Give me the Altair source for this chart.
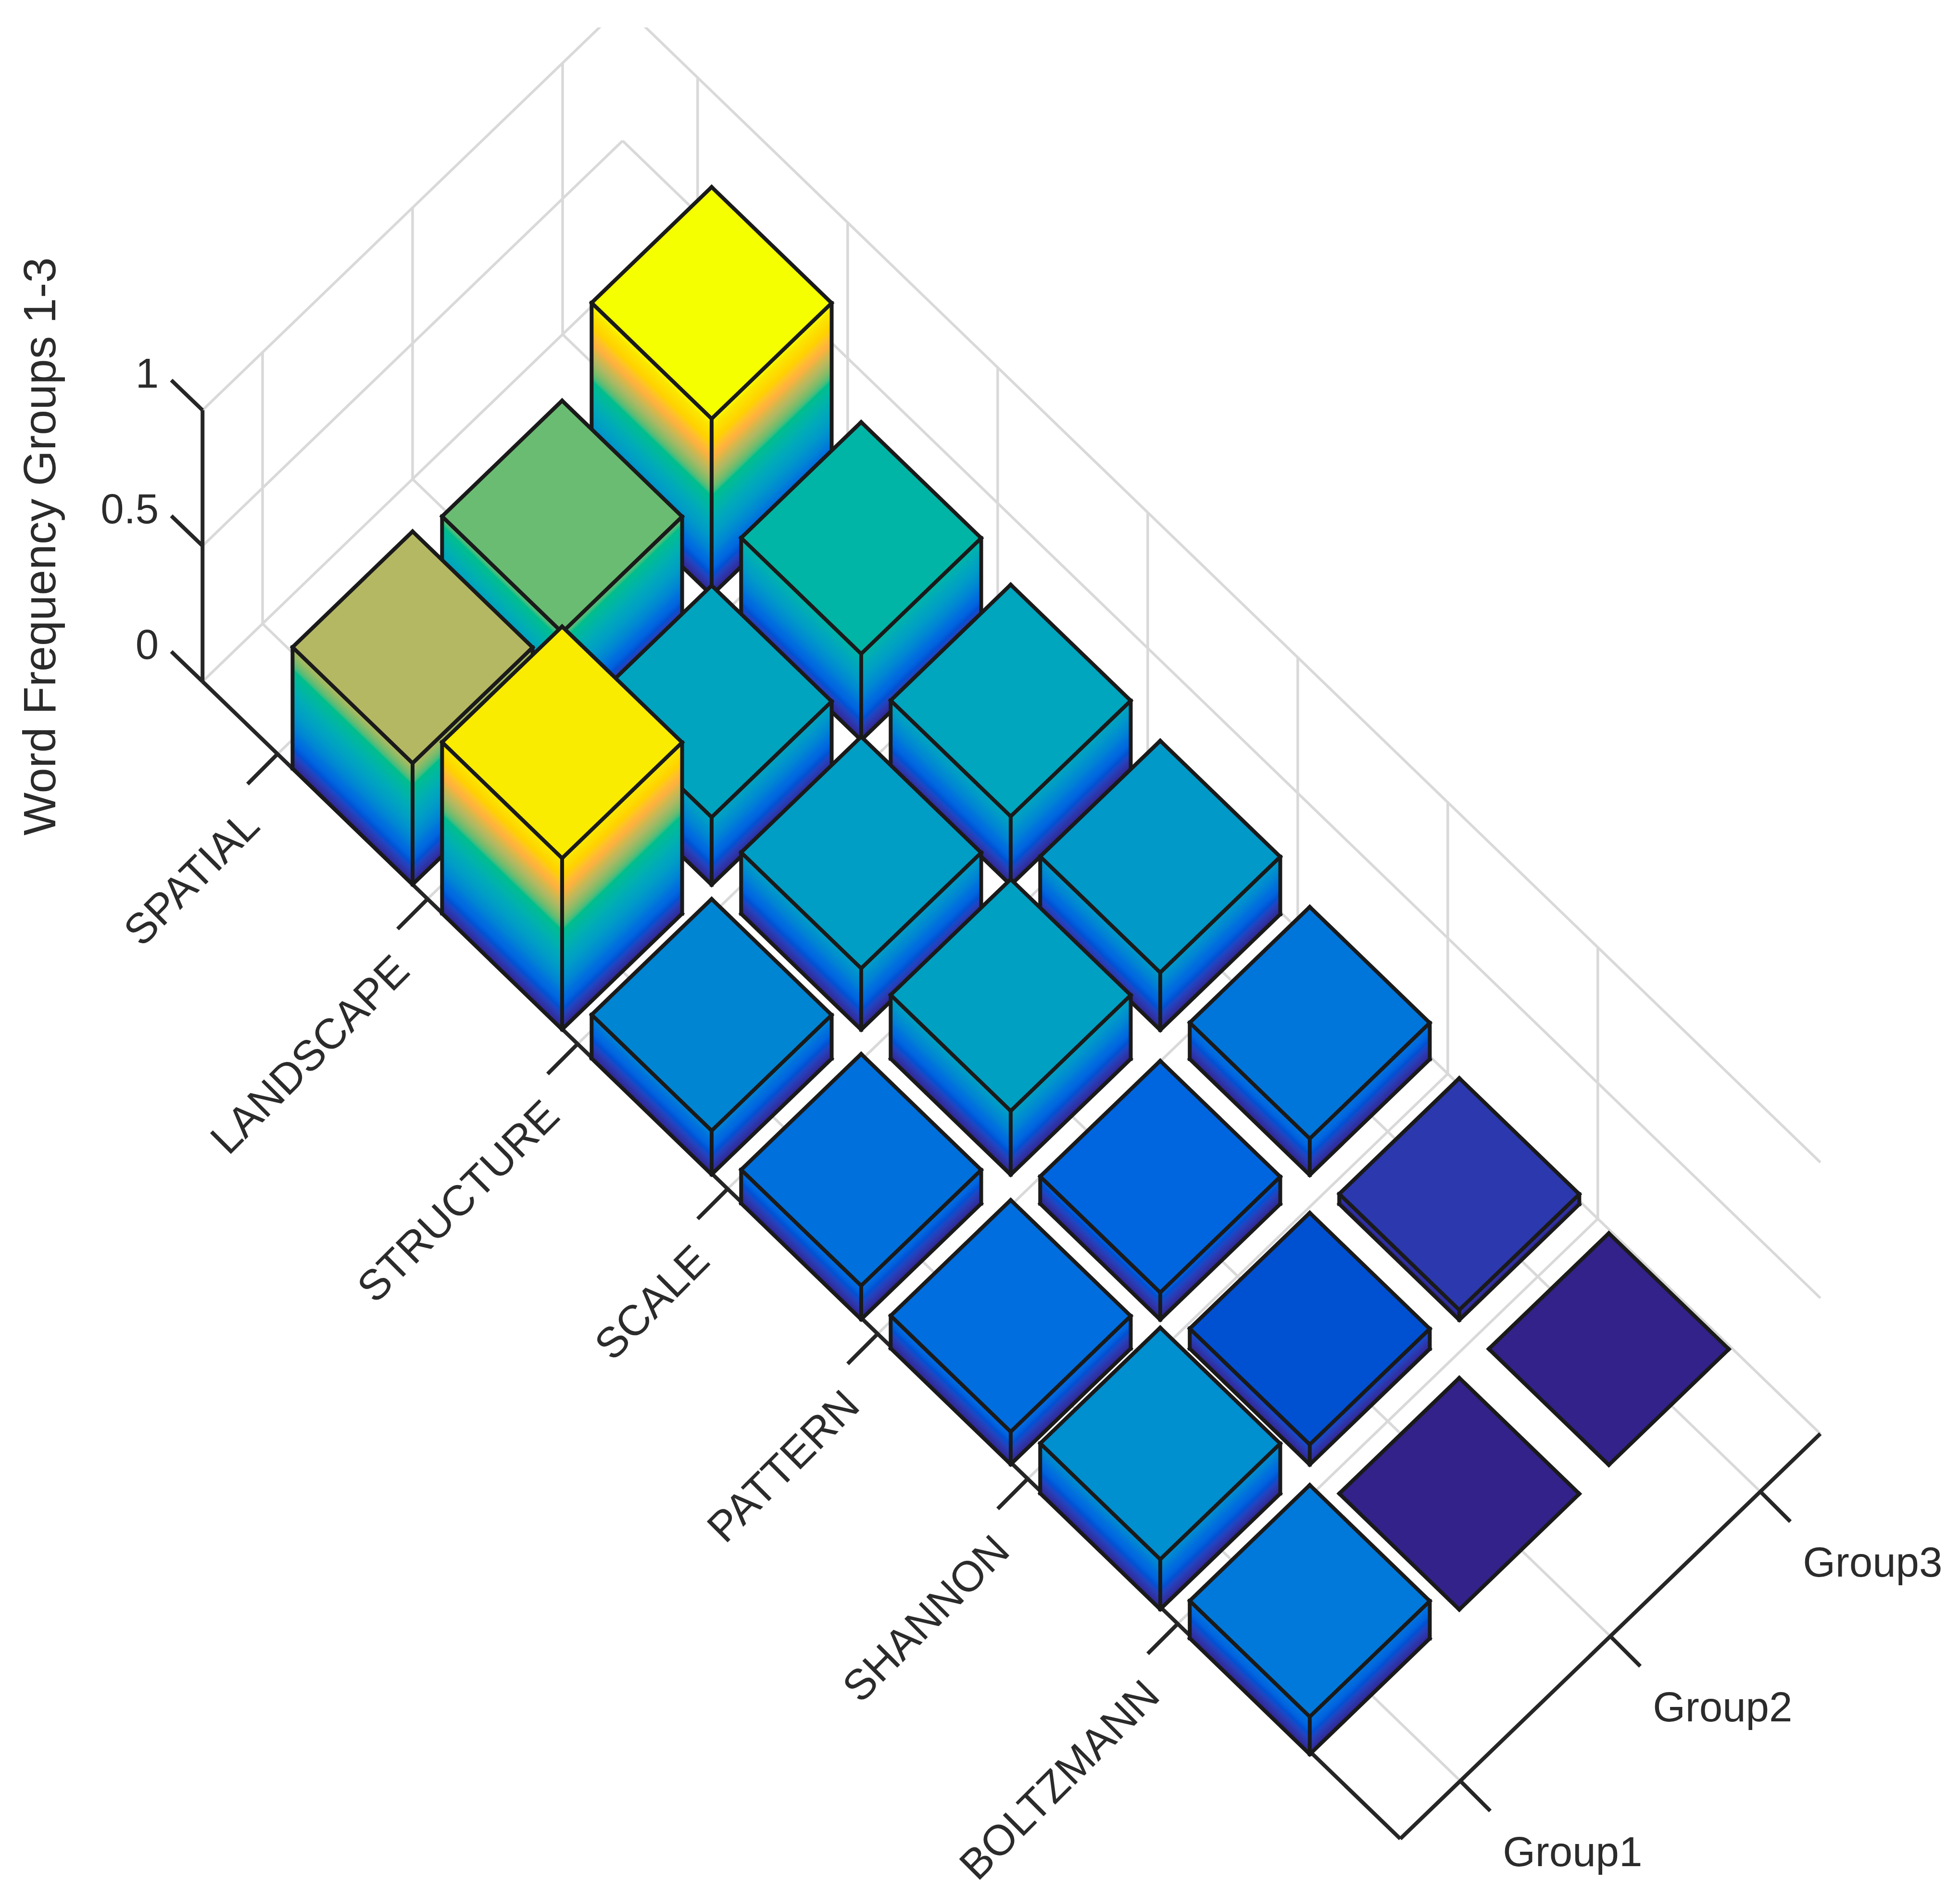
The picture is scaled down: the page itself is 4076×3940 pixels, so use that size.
import altair as alt
import pandas as pd

words = ["SPATIAL", "LANDSCAPE", "STRUCTURE", "SCALE", "PATTERN", "SHANNON", "BOLTZMANN"]
groups = ["Group1", "Group2", "Group3"]
group1 = [0.447, 0.631, 0.161, 0.124, 0.120, 0.184, 0.138]
group2 = [0.396, 0.249, 0.226, 0.235, 0.100, 0.074, 0.0]
group3 = [0.650, 0.318, 0.253, 0.212, 0.134, 0.037, 0.0]
z_ticks = [0, 0.5, 1]
z_labels = ["0", "0.5", "1"]

color_domain = [0, .037, .074, .100, .124, .161, .226, .253, .318, .369, .396, .447, .507, .562, .627, .650]
color_range = ["#32228A", "#2C38AE", "#0050D2", "#0066E0", "#0070DD", "#0085D3", "#009EC4", "#00A5BE", "#00B5A5",
               "#00BE8A", "#6ABC72", "#B5B863", "#FFB040", "#FFD000", "#FAE800", "#F5FF00"]

S = 2.6
W, H, TOP = 4060, 3924, 49
A_END, B_END = 958, 336
INK = "#1a1a1a"


def px(a, b, z=0.0, shift=0.0):
    return S * (162 + a + b - shift) - 8, S * (545 + 0.966 * a - 0.964 * b - 217 * z) - 8


word_pos = [60 + 120 * i for i in range(len(words))]
group_pos = [48 + 120 * j for j in range(len(groups))]

xs = alt.Scale(domain=[0, W], nice=False, zero=False)
ys = alt.Scale(domain=[H, TOP], nice=False, zero=False)
X = alt.X("x:Q", scale=xs, axis=None)
Y = alt.Y("y:Q", scale=ys, axis=None)
X2 = alt.X2("x2:Q")
Y2 = alt.Y2("y2:Q")
FILL = alt.Color("v:Q", scale=alt.Scale(domain=color_domain, range=color_range, clamp=True), legend=None)


def seg(p, q):
    return {"x": p[0], "y": p[1], "x2": q[0], "y2": q[1]}


def rules(rows, color, width, clip=False, cap="butt"):
    return alt.Chart(pd.DataFrame(rows)).mark_rule(
        color=color, strokeWidth=width, clip=clip, strokeCap=cap
    ).encode(x=X, y=Y, x2=X2, y2=Y2)


grid = []
for z in z_ticks:
    grid.append(seg(px(0, 0, z), px(0, B_END, z)))
    grid.append(seg(px(0, B_END, z), px(A_END, B_END, z)))
for b in group_pos:
    grid.append(seg(px(0, b), px(0, b, 1)))
    grid.append(seg(px(0, b), px(A_END, b)))
for a in word_pos:
    grid.append(seg(px(a, B_END), px(a, B_END, 1)))
    grid.append(seg(px(a, 0), px(a, B_END)))

axes = [seg(px(0, 0), px(0, 0, 1)), seg(px(0, 0), px(A_END, 0)), seg(px(A_END, 0), px(A_END, B_END))]


def offset(p, dx, dy):
    return p[0] + S * dx, p[1] + S * dy


for z in z_ticks:
    p = px(0, 0, z)
    axes.append(seg(p, offset(p, -25, -24)))
for a in word_pos:
    p = px(a, 0)
    axes.append(seg(p, offset(p, -24, 24)))
for b in group_pos:
    p = px(A_END, b)
    axes.append(seg(p, offset(p, 24, 24)))

layers = [rules(grid, "#d9d9d9", 5.5, clip=True), rules(axes, "#262626", 8)]

# bars painted back to front
bars = []
for j, vals in enumerate([group1, group2, group3]):
    for i, v in enumerate(vals):
        bars.append((i - j, i, j, v))
bars.sort()

HALF = 48
STEP = 0.006
PITCH = 120
for _, i, j, v in bars:
    a = 120 + PITCH * i
    b = 48 + PITCH * j
    d = 0.4 * (i + j)
    L = (a - HALF, b - HALF)
    F = (a + HALF, b - HALF)
    R = (a + HALF, b + HALF)
    K = (a - HALF, b + HALF)
    rows = []
    n = int(round(v / STEP))
    levels = [v * k / n for k in range(n, 0, -1)] if n else []
    fid = 0
    for face in [(L, F), (F, R)]:
        for lv in levels:
            for c in face:
                xp, top = px(*c, lv, d)
                _, bot = px(*c, 0)
                rows.append({"id": f"f{fid:05d}", "x": xp, "y": top, "y2": bot, "v": lv})
            fid += 1
    for c, other in [(L, L), (F, K), (R, R)]:
        xp, y1 = px(*c, v, d)
        _, y2 = px(*other, v)
        rows.append({"id": f"f{fid:05d}", "x": xp, "y": y1, "y2": y2, "v": v})
    layers.append(
        alt.Chart(pd.DataFrame(rows)).mark_area(interpolate="linear").encode(
            x=X, y=Y, y2=Y2, color=FILL, detail="id:N"
        )
    )
    edges = [
        seg(px(*L, v, d), px(*F, v, d)), seg(px(*F, v, d), px(*R, v, d)),
        seg(px(*R, v, d), px(*K, v, d)), seg(px(*K, v, d), px(*L, v, d)),
    ]
    if v > 0:
        edges += [
            seg(px(*L, 0, d), px(*F, 0, d)), seg(px(*F, 0, d), px(*R, 0, d)),
            seg(px(*L, 0, d), px(*L, v, d)), seg(px(*F, 0, d), px(*F, v, d)), seg(px(*R, 0, d), px(*R, v, d)),
        ]
    layers.append(rules(edges, INK, 8, cap="square"))

FONT = "Liberation Sans"
TEXT = "#2b2b2b"


def texts(rows, size=87, **kw):
    return alt.Chart(pd.DataFrame(rows)).mark_text(font=FONT, fontSize=size, color=TEXT, **kw).encode(
        x=X, y=Y, text="t:N"
    )


rows = []
for z, t in zip(z_ticks, z_labels):
    p = offset(px(0, 0, z), -35, -28)
    rows.append({"x": p[0], "y": p[1], "t": t})
layers.append(texts(rows, align="right", baseline="middle"))

rows = []
for a, t in zip(word_pos, words):
    p = offset(px(a, 0), -20, 52)
    rows.append({"x": p[0], "y": p[1], "t": t})
layers.append(texts(rows, size=89, align="right", baseline="middle", angle=315))

rows = []
for b, t in zip(group_pos, groups):
    p = offset(px(A_END, b), 34, 58)
    rows.append({"x": p[0], "y": p[1], "t": t})
layers.append(texts(rows, align="left", baseline="middle"))

layers.append(texts([{"x": S * 33 - 8, "y": S * 437 - 8, "t": "Word Frequency Groups 1-3"}],
                    size=95, align="center", baseline="middle", angle=270))

chart = alt.layer(*layers).properties(
    width=W, height=H - TOP, padding={"left": 0, "top": TOP, "right": 0, "bottom": 0},
    background="white",
).configure_view(stroke=None)

chart.save("out.html", embed_options={"renderer": "svg", "actions": False})
